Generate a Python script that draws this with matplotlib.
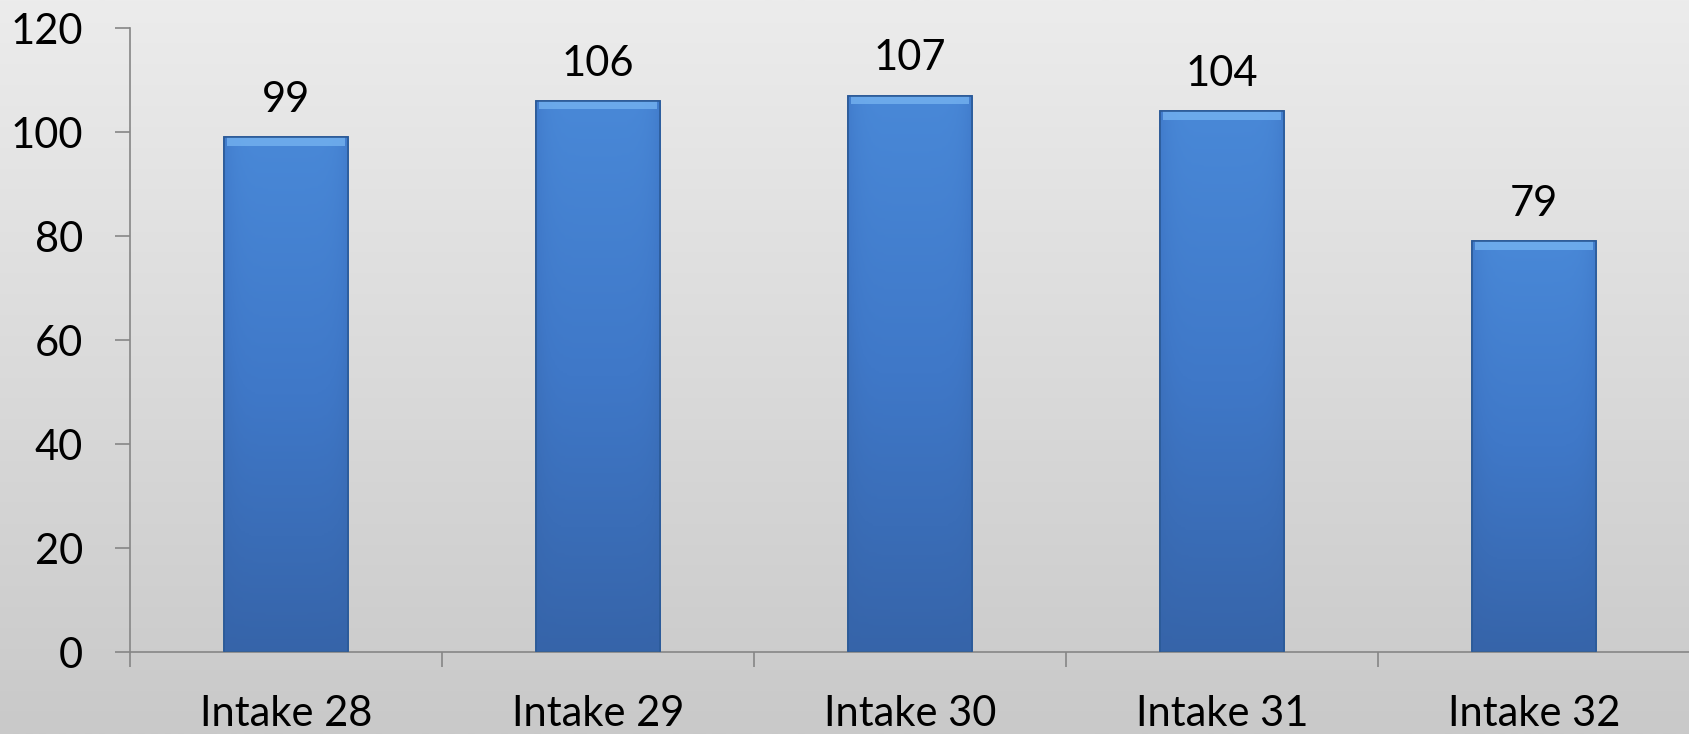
import numpy as np
import matplotlib.pyplot as plt
from matplotlib.colors import LinearSegmentedColormap

# data
categories = ["Intake 28", "Intake 29", "Intake 30", "Intake 31", "Intake 32"]
values = [99, 106, 107, 104, 79]
yticks = [0, 20, 40, 60, 80, 100, 120]

plt.rcParams["font.family"] = ["Lato", "DejaVu Sans"]

W, H = 1690, 734
fig = plt.figure(figsize=(W / 100, H / 100), dpi=100)

# gradient background for whole figure
bg = fig.add_axes([0, 0, 1, 1], zorder=-10)
bg_cmap = LinearSegmentedColormap.from_list("bg", ["#ececec", "#c9c9c9"])
bg.imshow(np.linspace(0, 1, 256).reshape(-1, 1), aspect="auto", cmap=bg_cmap,
          extent=[0, 1, 0, 1])
bg.axis("off")

# axes: x from 130 px to right edge, y from 652 px (0) to 28 px (120)
left, right = 130 / W, 1.0
bottom, top = 1 - 652 / H, 1 - 28 / H
ax = fig.add_axes([left, bottom, right - left, top - bottom])
ax.patch.set_alpha(0)

x = np.arange(len(categories))
bars = ax.bar(x, values, width=0.4, color="#3f7bcc", edgecolor="#2b5a97",
              linewidth=1.2, zorder=2)

# shade each bar: lighter at the top, darker at the bottom and sides
bar_cmap = LinearSegmentedColormap.from_list("bar", ["#3562a6", "#3f78c8", "#4a8ad9"])
for b in bars:
    bx, by = b.get_x(), b.get_y()
    bw, bh = b.get_width(), b.get_height()
    vert = np.linspace(0, 1, 200).reshape(-1, 1)
    horiz = 1 - 0.35 * np.abs(np.linspace(-1, 1, 60)) ** 6
    grad = vert * 0.9 * horiz + 0.05
    im = ax.imshow(grad, origin="lower", aspect="auto", cmap=bar_cmap, vmin=0, vmax=1,
                   extent=[bx, bx + bw, by, by + bh], zorder=2.5)
    im.set_clip_path(b)
    # top bevel highlight
    ax.fill_between([bx + 0.01, bx + bw - 0.01], by + bh - 1.6, by + bh,
                    color="#74b2f0", alpha=0.8, zorder=3, linewidth=0)
    ax.bar(bx + bw / 2, bh, width=bw, fill=False, edgecolor="#2b5a97",
           linewidth=1.2, zorder=4)
    ax.text(bx + bw / 2, bh + 3.5, f"{int(bh)}", ha="center", va="bottom",
            fontsize=30, color="black")

ax.set_xlim(-0.5, len(categories) - 0.5)
ax.set_ylim(0, 120)
ax.set_yticks(yticks)
ax.set_yticklabels([str(t) for t in yticks], fontsize=30)

# category ticks sit between categories
ax.set_xticks(np.arange(len(categories) + 1) - 0.5)
ax.set_xticklabels([])
ax.set_xticks(x, minor=True)
ax.set_xticklabels(categories, minor=True, fontsize=30)
ax.tick_params(axis="x", which="minor", length=0, pad=31)
ax.tick_params(axis="x", which="major", length=11, width=1.2, color="#868686")
ax.tick_params(axis="y", length=11, width=1.2, color="#868686", pad=23)

for s in ["top", "right"]:
    ax.spines[s].set_visible(False)
for s in ["left", "bottom"]:
    ax.spines[s].set_color("#868686")
    ax.spines[s].set_linewidth(1.2)

fig.savefig("out.png", dpi=100)
